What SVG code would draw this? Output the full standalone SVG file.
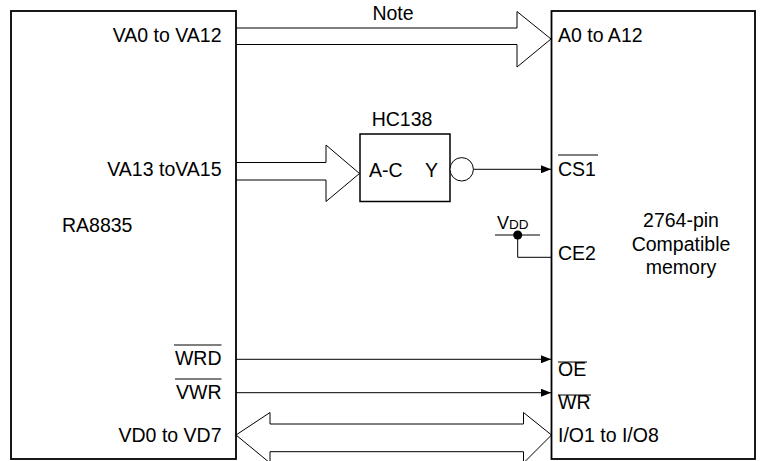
<svg xmlns="http://www.w3.org/2000/svg" width="766" height="461" viewBox="0 0 766 461">
<defs>
<style>
text{font-family:"Liberation Sans",Arial,sans-serif;font-size:19.5px;fill:#000}
.r{text-anchor:end}
.m{text-anchor:middle}
.box{fill:#fff;stroke:#000;stroke-width:1.8}
.bus{fill:#fff;stroke:#000;stroke-width:1}
.ln{fill:none;stroke:#000;stroke-width:1}
.ov{stroke:#000;stroke-width:1;fill:none}
</style>
<marker id="ah" markerWidth="10" markerHeight="8" refX="10" refY="4" orient="auto" markerUnits="userSpaceOnUse">
<path d="M0,0 L10,4 L0,8 Z" fill="#000"/>
</marker>
</defs>
<rect width="766" height="461" fill="#fff"/>
<g id="connectors">
<path class="bus" d="M236,28 H517 V11.5 L551,39 L517,67 V44.5 H236"/>
<path class="bus" d="M236,162.5 H326 V145 L359.5,173.5 L326,201.5 V180 H236"/>
<line class="ln" x1="473.4" y1="169.3" x2="551" y2="169.3" marker-end="url(#ah)"/>
<line class="ln" x1="236" y1="359.3" x2="551" y2="359.3" marker-end="url(#ah)"/>
<line class="ln" x1="236" y1="392.7" x2="551" y2="392.7" marker-end="url(#ah)"/>
<path class="bus" d="M236,435 L270,412.5 V424 H523.5 V412.5 L551.5,435 L523.5,463 V451.7 H270 V463 Z"/>
<polyline class="ln" points="495,235 540,235"/>
<polyline class="ln" points="517.7,235 517.7,257.3 551,257.3"/>
<circle cx="517.7" cy="235" r="4.5" fill="#000"/>
<text x="497" y="228.5" style="font-size:18px">V<tspan style="font-size:13.5px">DD</tspan></text>
<text class="m" x="393" y="20">Note</text>
</g>
<g id="ra8835">
<rect class="box" x="11" y="11" width="225" height="448"/>
<text class="r" x="221.5" y="42">VA0 to VA12</text>
<text class="r" x="221.5" y="176">VA13 toVA15</text>
<text x="62" y="232">RA8835</text>
<text class="r" x="221.5" y="365">WRD</text>
<line class="ov" x1="174" y1="345" x2="221.5" y2="345"/>
<text class="r" x="221.5" y="399">VWR</text>
<line class="ov" x1="175" y1="379" x2="221.5" y2="379"/>
<text class="r" x="221.5" y="442">VD0 to VD7</text>
</g>
<g id="memory">
<rect class="box" x="551.5" y="11" width="203.5" height="448"/>
<text x="558" y="42">A0 to A12</text>
<text x="558" y="176">CS1</text>
<line class="ov" x1="558" y1="155" x2="598" y2="155"/>
<text x="558" y="260">CE2</text>
<text x="558" y="376">OE</text>
<line class="ov" x1="558" y1="362" x2="587" y2="362"/>
<text x="558" y="409">WR</text>
<line class="ov" x1="558" y1="395" x2="591" y2="395"/>
<text x="558" y="442">I/O1 to I/O8</text>
<text class="m" x="681" y="227">2764-pin</text>
<text class="m" x="681" y="251">Compatible</text>
<text class="m" x="681" y="274">memory</text>
</g>
<g id="hc138">
<rect class="box" x="360" y="134" width="90" height="67.5" style="stroke-width:1.5"/>
<circle cx="461.7" cy="169.3" r="11.7" fill="#fff" stroke="#000" stroke-width="1"/>
<text class="m" x="402" y="126">HC138</text>
<text x="369" y="177">A-C</text>
<text x="425" y="177">Y</text>
</g>
</svg>
